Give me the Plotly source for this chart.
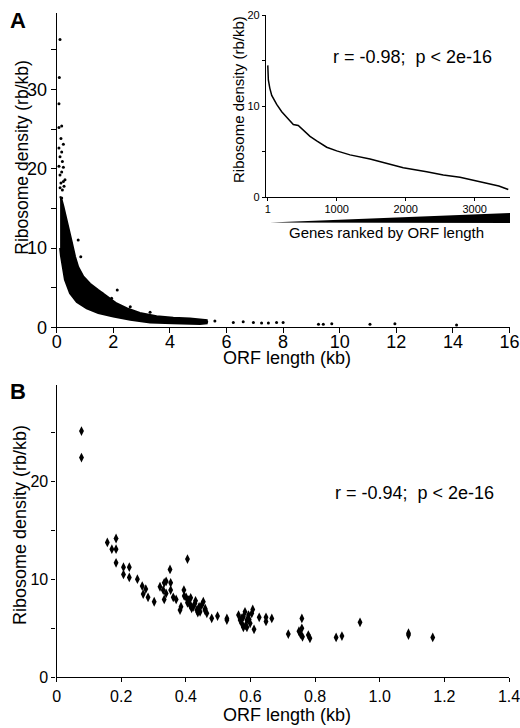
import plotly.graph_objects as go

FONT = "Liberation Sans, Arial, sans-serif"
W, H = 520, 728

# ---- panel A: ORF length vs ribosome density (dense cloud as envelope + sparse points)
band_upper_x = [0.12, 0.15, 0.18, 0.24, 0.29, 0.35, 0.41, 0.53, 0.65, 0.76, 0.94, 1.18,
                1.47, 1.77, 2.12, 2.47, 2.94, 3.53, 4.12, 4.71, 5.06, 5.3]
band_upper_y = [16.5, 16.3, 16.0, 15.2, 14.4, 13.4, 12.3, 10.8, 8.9, 7.6, 6.4, 5.5,
                4.7, 3.9, 3.0, 2.4, 1.8, 1.4, 1.2, 1.1, 1.0, 0.9]
band_lower_x = [0.12, 0.15, 0.21, 0.29, 0.47, 0.71, 1.06, 1.47, 2.0, 2.6, 3.3, 4.1, 5.06, 5.3]
band_lower_y = [10.0, 9.0, 7.6, 6.0, 4.3, 3.2, 2.4, 1.8, 1.35, 0.95, 0.6, 0.5, 0.42, 0.5]

a_pts_x = [0.117, 0.093, 0.08, 0.08, 0.177, 0.15, 0.08, 0.235, 0.177, 0.117, 0.2, 0.08,
           0.235, 0.177, 0.117, 0.293, 0.235, 0.15, 0.2, 0.177, 0.26, 0.12,
           2.14, 1.94, 0.76, 0.85, 3.3, 2.6, 1.6, 0.55,
           4.59, 4.95, 5.30, 5.59, 6.24, 6.59, 6.95, 7.24, 7.48, 7.77, 8.0,
           9.25, 9.42, 9.72, 11.07, 11.95, 14.13]
a_pts_y = [36.3, 31.5, 28.2, 25.2, 25.4, 23.8, 22.6, 23.1, 22.1, 21.5, 20.9, 20.3,
           20.2, 19.6, 19.2, 18.6, 18.4, 18.2, 17.3, 16.3, 17.8, 17.6,
           4.7, 3.66, 11.0, 8.9, 1.9, 2.6, 4.3, 4.5,
           0.75, 0.7, 0.7, 0.8, 0.6, 0.7, 0.6, 0.55, 0.55, 0.6, 0.6,
           0.4, 0.4, 0.45, 0.4, 0.45, 0.3]

# ---- inset: density vs gene rank
rank = [1, 9, 30, 58, 130, 203, 275, 371, 443, 500, 613, 710, 855, 1000, 1193, 1483,
        1820, 1965, 2304, 2545, 2787, 3029, 3174, 3350, 3487]
rank_density = [14.5, 12.9, 12.0, 11.2, 10.2, 9.4, 8.8, 8.0, 7.9, 7.5, 6.7, 6.2, 5.5,
                5.1, 4.66, 4.2, 3.55, 3.25, 2.8, 2.45, 2.2, 1.8, 1.6, 1.25, 0.85]

# ---- panel B
b_x = [0.077, 0.077, 0.157, 0.184, 0.171, 0.184, 0.184, 0.207, 0.225, 0.207, 0.225, 0.250,
       0.265, 0.276, 0.268, 0.283, 0.302, 0.320, 0.333, 0.339, 0.353, 0.330, 0.339, 0.353,
       0.361, 0.370, 0.333, 0.351, 0.405, 0.394, 0.401, 0.382, 0.385, 0.408, 0.413, 0.418,
       0.423, 0.428, 0.434, 0.441, 0.444, 0.449, 0.454, 0.459, 0.465, 0.480, 0.498, 0.527,
       0.527, 0.563, 0.568, 0.573, 0.578, 0.583, 0.589, 0.578, 0.594, 0.599, 0.604, 0.607,
       0.611, 0.589, 0.573, 0.627, 0.648, 0.648, 0.666, 0.717, 0.759, 0.759, 0.755, 0.761,
       0.779, 0.784, 0.865, 0.883, 0.939, 1.089, 1.089, 1.164, 0.395, 0.405, 0.415, 0.430,
       0.460, 0.437, 0.750, 0.415, 0.585, 0.596]
b_y = [25.1, 22.4, 13.75, 14.15, 13.06, 13.06, 11.67, 11.23, 11.23, 10.49, 10.18, 10.0,
       9.30, 8.99, 8.48, 8.15, 7.70, 9.23, 9.63, 9.78, 9.63, 8.89, 8.55, 8.89,
       8.15, 7.94, 7.94, 11.0, 12.05, 8.89, 8.15, 6.85, 7.2, 7.87, 7.36, 7.03,
       7.19, 7.53, 6.85, 7.19, 6.68, 7.36, 7.70, 6.85, 6.52, 6.01, 6.24, 5.83,
       6.0, 6.34, 5.83, 5.5, 6.17, 6.68, 5.83, 5.09, 6.34, 5.5, 6.52, 6.92,
       4.89, 5.09, 6.0, 6.11, 6.11, 5.7, 6.0, 4.41, 6.0, 4.99, 4.4, 4.13,
       4.3, 3.97, 4.07, 4.2, 5.6, 4.5, 4.3, 4.07, 8.3, 7.6, 8.1, 7.8,
       7.0, 6.6, 4.7, 7.3, 5.3, 5.9]


def px(x):
    return x / W


def py(y):
    return 1 - y / H


fig = go.Figure()

fig.add_trace(go.Scatter(
    x=band_upper_x + band_lower_x[::-1], y=band_upper_y + band_lower_y[::-1],
    fill="toself", fillcolor="black", mode="lines",
    line=dict(color="black", width=2), xaxis="x", yaxis="y", hoverinfo="skip"))
fig.add_trace(go.Scatter(
    x=a_pts_x, y=a_pts_y, mode="markers",
    marker=dict(color="black", size=3), xaxis="x", yaxis="y"))

fig.add_trace(go.Scatter(
    x=rank, y=rank_density, mode="lines",
    line=dict(color="black", width=1.5), xaxis="x2", yaxis="y2"))

fig.add_trace(go.Scatter(
    x=b_x, y=b_y, mode="markers",
    marker=dict(color="black", size=7, symbol="diamond-tall"), xaxis="x3", yaxis="y3"))

ax = dict(showgrid=False, zeroline=False, showline=True, linecolor="black",
          linewidth=1.3, ticks="outside", tickcolor="black", tickwidth=1.3,
          color="black", automargin=False, ticklabeloverflow="allow")

fig.update_layout(
    width=W, height=H, showlegend=False,
    margin=dict(l=0, r=0, t=0, b=0, autoexpand=False),
    paper_bgcolor="white", plot_bgcolor="rgba(0,0,0,0)",
    font=dict(family=FONT, color="black"),
    xaxis=dict(ax, domain=[px(56.7), px(509.5)], range=[0, 16], anchor="y",
               tickvals=list(range(0, 17, 2)), ticklen=5, tickfont=dict(size=18),
               ticklabelstandoff=-7),
    yaxis=dict(ax, domain=[py(327.3), py(13.3)], range=[0, 39.6], anchor="x",
               tickvals=[0, 10, 20, 30], ticklen=5, tickfont=dict(size=18),
               minor=dict(tickvals=[5, 15, 25, 35], ticks="outside", ticklen=5,
                          tickcolor="black", tickwidth=1.3)),
    xaxis2=dict(ax, domain=[px(266), px(510)], range=[-25, 3512], anchor="y2",
                tickvals=[1, 1000, 2000, 3000], ticklen=3, tickfont=dict(size=11),
                ticklabelstandoff=-2),
    yaxis2=dict(ax, domain=[py(197.3), py(15.3)], range=[0, 20], anchor="x2",
                tickvals=[0, 10, 20], ticklen=3, tickfont=dict(size=11),
                minor=dict(tickvals=[5, 15], ticks="outside", ticklen=3,
                           tickcolor="black", tickwidth=1.3)),
    xaxis3=dict(ax, domain=[px(56.6), px(509)], range=[0, 1.4], anchor="y3",
                tickvals=[0, 0.2, 0.4, 0.6, 0.8, 1.0, 1.2, 1.4],
                ticktext=["0", "0.2", "0.4", "0.6", "0.8", "1.0", "1.2", "1.4"],
                ticklen=4, tickfont=dict(size=16)),
    yaxis3=dict(ax, domain=[py(677.3), py(385)], range=[0, 29.8], anchor="x3",
                tickvals=[0, 10, 20], ticklen=4, tickfont=dict(size=16),
                minor=dict(tickvals=[5, 15, 25], ticks="outside", ticklen=4,
                           tickcolor="black", tickwidth=1.3)),
)

# wedge under inset x axis (longer ORFs to the right)
fig.add_shape(type="path", xref="paper", yref="paper",
              path=f"M {px(270)},{py(222.5)} L {px(510)},{py(213)} L {px(510)},{py(223)} Z",
              fillcolor="black", line=dict(color="black", width=0))

notes = [
    ("<b>A</b>", 18, 20.5, 22, 0),
    ("<b>B</b>", 17.5, 391.5, 22, 0),
    ("Ribosome density (rb/kb)", 21.7, 157, 17.5, -90),
    ("ORF length (kb)", 287, 358, 18, 0),
    ("Ribosome density (rb/kb)", 239, 100, 15, -90),
    ("Genes ranked by ORF length", 386, 233, 15, 0),
    ("r = -0.98;  p &lt; 2e-16", 412.5, 56.7, 18, 0),
    ("Ribosome density (rb/kb)", 20, 525, 18, -90),
    ("ORF length (kb)", 287, 715, 18, 0),
    ("r = -0.94;  p &lt; 2e-16", 414, 493, 18, 0),
]
for text, x, y, size, angle in notes:
    fig.add_annotation(text=text, x=px(x), y=py(y), xref="paper", yref="paper",
                       xanchor="center", yanchor="middle", showarrow=False,
                       textangle=angle, font=dict(size=size, family=FONT, color="black"))

# drop the default page margin so the figure fills the window exactly
fig.write_html("out.html", config={"displayModeBar": False},
               post_script="document.body.style.margin='0';"
                           "document.documentElement.style.overflow='hidden';")
